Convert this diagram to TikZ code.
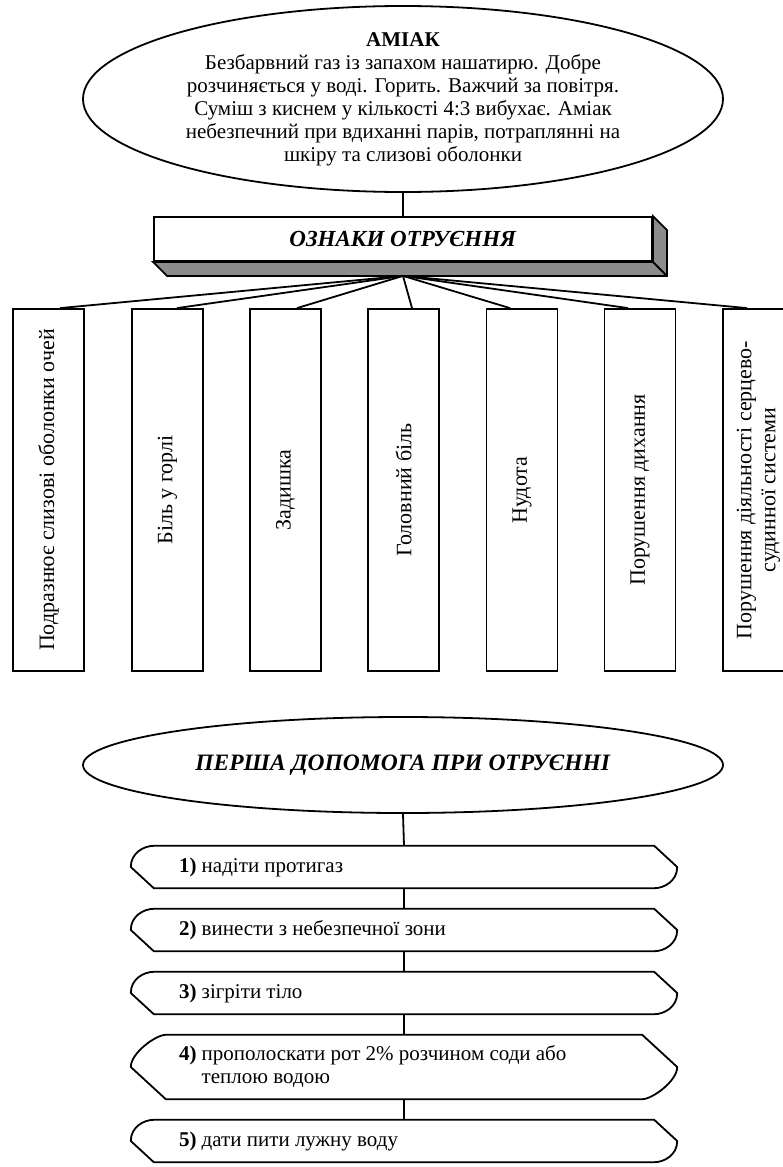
\documentclass[tikz,border=0pt]{standalone}
\usepackage{fontspec}
\setmainfont{Liberation Serif}
\usetikzlibrary{shapes.geometric,calc,positioning}
\tikzset{
    frame line/.style={line width=1.8pt},
    big oval/.style={frame line,draw,ellipse,inner sep=0pt,minimum width=640pt,minimum height=#1},
    big oval/.default=186pt,
    oval text/.style={align=center,inner sep=0pt},
    signs box/.style={frame line,draw,fill=white,minimum width=498pt,minimum height=44pt,inner sep=0pt},
    signs shade/.style={frame line,fill=black!45},
    sign/.style={frame line,draw,minimum width=71pt,minimum height=362pt,inner sep=0pt},
    sign text/.style={rotate=90,align=center,inner sep=0pt,font=\fontsize{22}{24}\selectfont},
    step/.style={minimum width=546pt,minimum height=#1,inner sep=0pt},
    step/.default=42pt,
    step text/.style={anchor=west,align=left,inner sep=0pt},
}
\tikzstyle{every node}=[font=\fontsize{21}{23}\selectfont]

\begin{document}
\begin{tikzpicture}[x=1pt,y=-1pt]
    \useasboundingbox (0,0) rectangle (783,1167);
    \clip (0,0) rectangle (783,1167);

    % ammonia
    \node[big oval] (amiak) at (403,99) {};
    \node[oval text] (amiaktext) at (amiak) {\textbf{АМІАК}\\
        Безбарвний газ із запахом нашатирю. Добре\\
        розчиняється у воді. Горить. Важчий за повітря.\\
        Суміш з киснем у кількості 4:3 вибухає. Аміак\\
        небезпечний при вдиханні парів, потраплянні на\\
        шкіру та слизові оболонки};

    % signs of poisoning
    \node[signs box,font=\fontsize{23}{25}\selectfont] (signs) at (403,239) {\textbf{\textit{ОЗНАКИ ОТРУЄННЯ}}};
    \draw[signs shade]
    (signs.north east) -- ++(14,14) -- ($(signs.south east)+(14,14)$)
    -- ($(signs.south west)+(14,14)$) -- (signs.south west)
    -- (signs.south east) -- cycle;
    \draw[frame line] (signs.south east) -- ++(14,14);
    \draw[frame line] (amiak.south) -- (signs.north);
    \coordinate (fan) at ($(signs.south)+(0,14)$);

    \node[sign] (col1) at (48.5,490) {};
    \node[sign] (col2) at (167.5,490) {};
    \node[sign] (col3) at (285.5,490) {};
    \node[sign] (col4) at (403.5,490) {};
    \node[sign] (col5) at (522,490) {};
    \node[sign] (col6) at (640,490) {};
    \node[sign] (col7) at (758.5,490) {};

    \node[sign text] (col1text) at (col1) {Подразнює слизові оболонки очей};
    \node[sign text] (col2text) at (col2) {Біль у горлі};
    \node[sign text] (col3text) at (col3) {Задишка};
    \node[sign text] (col4text) at (col4) {Головний біль};
    \node[sign text] (col5text) at (col5) {Нудота};
    \node[sign text] (col6text) at (col6) {Порушення дихання};
    \node[sign text] (col7text) at (col7) {Порушення діяльності серцево-\\судинної системи};

    \draw[frame line] (fan) -- ([xshift=11.5pt]col1.north);
    \draw[frame line] (fan) -- ([xshift=9.5pt]col2.north);
    \draw[frame line] (fan) -- ([xshift=11.5pt]col3.north);
    \draw[frame line] (fan) -- ([xshift=8.5pt]col4.north);
    \draw[frame line] (fan) -- ([xshift=-12pt]col5.north);
    \draw[frame line] (fan) -- ([xshift=-12pt]col6.north);
    \draw[frame line] (fan) -- ([xshift=-11.5pt]col7.north);

    % first aid
    \node[big oval=96pt] (help) at (403,765) {};
    \node[oval text,font=\fontsize{23.5}{25}\selectfont] (helptext) at (help) {\textbf{\textit{ПЕРША ДОПОМОГА ПРИ ОТРУЄННІ}}};

    \node[step] (step1) at (404,867) {};
    \node[step] (step2) at (404,930) {};
    \node[step] (step3) at (404,993) {};
    \node[step=64pt] (step4) at (404,1067) {};
    \node[step] (step5) at (404,1141) {};

    \foreach \s/\d in {step1/23,step2/23,step3/23,step4/35,step5/23}
    \draw[frame line]
    ($(\s.north west)+(\d,0)$) -- ($(\s.north east)+(-\d,0)$) -- (\s.east)
    .. controls ($(\s.east)+(0,14)$) and ($(\s.south east)+(-\d+10,0)$) .. ($(\s.south east)+(-\d,0)$)
    -- ($(\s.south west)+(\d,0)$) -- (\s.west)
    .. controls ($(\s.west)+(0,-14)$) and ($(\s.north west)+(\d-10,0)$) .. cycle;

    \node[step text] (step1text) at ($(step1.west)+(48,0)$) {\textbf{1)} надіти протигаз};
    \node[step text] (step2text) at ($(step2.west)+(48,0)$) {\textbf{2)} винести з небезпечної зони};
    \node[step text] (step3text) at ($(step3.west)+(48,0)$) {\textbf{3)} зігріти тіло};
    \node[step text] (step4text) at ($(step4.west)+(48,0)$) {\textbf{4)} прополоскати рот 2\% розчином соди або\\
        \phantom{\textbf{4)} }теплою водою};
    \node[step text] (step5text) at ($(step5.west)+(48,0)$) {\textbf{5)} дати пити лужну воду};

    \draw[frame line] (help.south) -- (step1.north);
    \draw[frame line] (step1.south) -- (step2.north);
    \draw[frame line] (step2.south) -- (step3.north);
    \draw[frame line] (step3.south) -- (step4.north);
    \draw[frame line] (step4.south) -- (step5.north);
\end{tikzpicture}
\end{document}
